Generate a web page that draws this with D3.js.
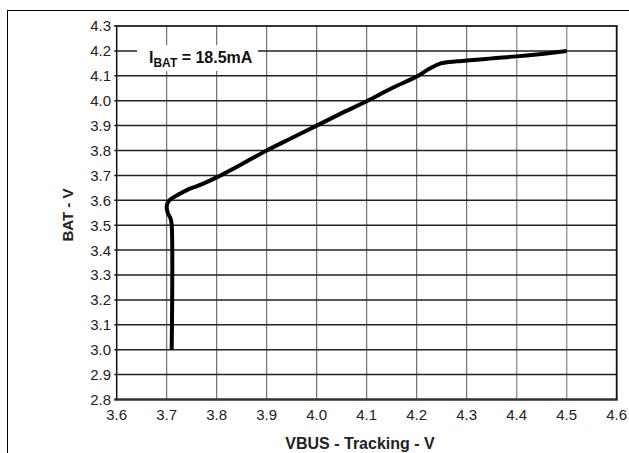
<!DOCTYPE html>
<html>
<head>
<meta charset="utf-8">
<script src="https://cdn.jsdelivr.net/npm/d3@7"></script>
<style>
  html, body { margin: 0; padding: 0; background: #fff; }
  svg { display: block; font-family: "Liberation Sans", Arial, sans-serif; }
</style>
</head>
<body>
<svg id="chart" width="629" height="453"></svg>
<script>
// ---- data ----
const vbus = [3.71, 3.71, 3.708, 3.702, 3.70, 3.703, 3.712, 3.725, 3.742, 3.762, 3.782, 3.80, 3.85, 3.90, 3.95, 4.00, 4.05, 4.10, 4.15, 4.20, 4.225, 4.248, 4.28, 4.30, 4.35, 4.40, 4.45, 4.50];
const bat  = [3.00, 3.50, 3.525, 3.55, 3.575, 3.595, 3.610, 3.625, 3.643, 3.658, 3.675, 3.692, 3.745, 3.80, 3.85, 3.90, 3.95, 3.998, 4.05, 4.097, 4.128, 4.150, 4.158, 4.161, 4.170, 4.178, 4.188, 4.20];
const xTicks = [3.6, 3.7, 3.8, 3.9, 4.0, 4.1, 4.2, 4.3, 4.4, 4.5, 4.6];
const yTicks = [2.8, 2.9, 3.0, 3.1, 3.2, 3.3, 3.4, 3.5, 3.6, 3.7, 3.8, 3.9, 4.0, 4.1, 4.2, 4.3];
const xTitle = "VBUS - Tracking - V";
const yTitle = "BAT - V";
const labelMain = "I", labelSub = "BAT", labelRest = " = 18.5mA";

const svg = d3.select("#chart");
const L = 116.7, R = 616.7, T = 26, B = 399.5;

const x = d3.scaleLinear().domain([3.6, 4.6]).range([L, R]);
const y = d3.scaleLinear().domain([2.8, 4.3]).range([B, T]);

// outer frame (only left and top visible)
svg.append("rect").attr("x", 7.5).attr("y", 10.5).attr("width", 640).attr("height", 460)
  .attr("fill", "none").attr("stroke", "#000").attr("stroke-width", 1);

// vertical gridlines
svg.append("g").selectAll("line").data(xTicks.slice(1, -1)).join("line")
  .attr("x1", d => x(d)).attr("x2", d => x(d)).attr("y1", T).attr("y2", B)
  .attr("stroke", d => d >= 4.35 ? "#a0a0a0" : "#555")
  .attr("stroke-width", d => d >= 4.35 ? 1.6 : 1);

// horizontal gridlines (extend slightly left as tick)
svg.append("g").selectAll("line").data(yTicks.slice(1, -1)).join("line")
  .attr("x1", L - 2.5).attr("x2", R).attr("y1", d => y(d)).attr("y2", d => y(d))
  .attr("stroke", "#222").attr("stroke-width", 1.5);

// plot border
svg.append("line").attr("x1", L - 2.5).attr("x2", R + 1).attr("y1", T).attr("y2", T)
  .attr("stroke", "#333").attr("stroke-width", 2.2);
svg.append("line").attr("x1", L - 2.5).attr("x2", R + 1).attr("y1", B).attr("y2", B)
  .attr("stroke", "#333").attr("stroke-width", 2.4);
svg.append("line").attr("x1", L).attr("x2", L).attr("y1", T).attr("y2", B)
  .attr("stroke", "#111").attr("stroke-width", 1.5);
svg.append("line").attr("x1", R).attr("x2", R).attr("y1", T).attr("y2", B)
  .attr("stroke", "#111").attr("stroke-width", 1.8);

// tick labels
svg.append("g").selectAll("text").data(yTicks).join("text")
  .attr("x", L - 5.7).attr("y", d => y(d)).attr("dy", "0.36em")
  .attr("text-anchor", "end").attr("font-size", 15).attr("fill", "#222")
  .text(d => d.toFixed(1));
svg.append("g").selectAll("text").data(xTicks).join("text")
  .attr("x", d => x(d)).attr("y", B + 20.5)
  .attr("text-anchor", "middle").attr("font-size", 15).attr("fill", "#222")
  .text(d => d.toFixed(1));

// axis titles
svg.append("text").attr("x", 360).attr("y", 449)
  .attr("text-anchor", "middle").attr("font-size", 16).attr("font-weight", "bold").attr("fill", "#222")
  .text(xTitle);
svg.append("text").attr("transform", "translate(72.5,215) rotate(-90)")
  .attr("text-anchor", "middle").attr("font-size", 15).attr("font-weight", "bold").attr("fill", "#222")
  .text(yTitle);

// label with white background
svg.append("rect").attr("x", 137).attr("y", 45).attr("width", 121).attr("height", 26).attr("fill", "#fff");
const lab = svg.append("text").attr("x", 149).attr("y", 63).attr("font-size", 16)
  .attr("font-weight", "bold").attr("fill", "#111");
lab.append("tspan").text(labelMain);
lab.append("tspan").attr("font-size", 12).attr("dy", 3.5).text(labelSub);
lab.append("tspan").attr("dy", -3.5).text(labelRest);

// curve
const line = d3.line().x(d => x(d[0])).y(d => y(d[1])).curve(d3.curveCatmullRom.alpha(0.5));
svg.append("path").datum(d3.zip(vbus, bat)).attr("d", line)
  .attr("fill", "none").attr("stroke", "#000").attr("stroke-width", 4)
  .attr("stroke-linejoin", "round").attr("stroke-linecap", "butt");
</script>
</body>
</html>
